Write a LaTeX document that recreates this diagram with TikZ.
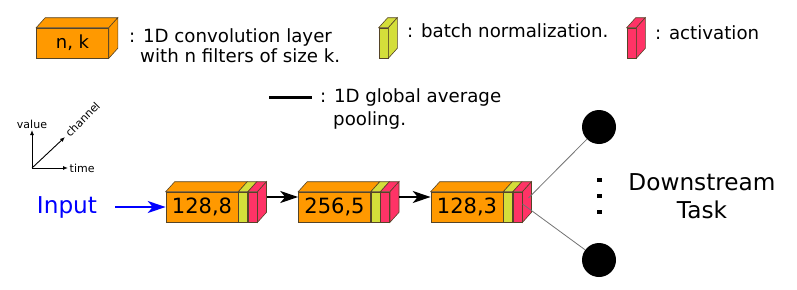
\documentclass[tikz,border=0pt]{standalone}
\usepackage{fontspec}
\setmainfont{DejaVu Sans}
\usepackage{tikz}
\usetikzlibrary{arrows.meta, positioning, calc}

\definecolor{convorange}{RGB}{255,153,0}
\definecolor{bngreen}{RGB}{212,222,58}
\definecolor{actred}{RGB}{255,51,102}
\definecolor{edgegray}{RGB}{85,68,40}

\begin{document}
\begin{tikzpicture}[
    x=1pt, y=-1pt,
    face/.style={draw=edgegray, line width=0.6pt},
    convbox/.style={rectangle, face, fill=convorange, minimum width=72pt, minimum height=30pt, inner sep=0pt, font=\fontsize{21}{25}\selectfont},
    bnbox/.style={rectangle, face, fill=bngreen, minimum width=9pt, minimum height=30pt, inner sep=0pt},
    actbox/.style={rectangle, face, fill=actred, minimum width=9pt, minimum height=30pt, inner sep=0pt},
    legtext/.style={inner sep=0pt, anchor=base west, font=\fontsize{18.2}{21}\selectfont},
    bigtext/.style={inner sep=0pt, align=center, font=\fontsize{23.2}{28}\selectfont},
    axlabel/.style={inner sep=0pt, font=\fontsize{11}{13}\selectfont},
    flowarrow/.style={-{Stealth[length=18pt, width=12pt, inset=5pt]}, line width=1.4pt},
    axisarrow/.style={-{Latex[length=5pt, width=4pt]}, line width=0.9pt},
    link/.style={draw=black!55, line width=0.8pt},
    outnode/.style={circle, fill=black, minimum size=34pt, inner sep=0pt},
    dotmark/.style={rectangle, fill=black, minimum width=5pt, minimum height=4.5pt, inner sep=0pt},
]
\useasboundingbox (0,0) rectangle (797,289);

% legend
\node[convbox, font=\fontsize{18}{21}\selectfont] (legconv) at (72.5,43) {n, k};
\node[bnbox] (legbn) at (383.5,43) {};
\node[actbox] (legact) at (631.5,43) {};
\node[legtext] (convtxt) at (129,42) {: 1D convolution layer};
\node[legtext] (convtxtb) at (140,62) {with n filters of size k.};
\node[legtext] (bntxt) at (407,37) {: batch normalization.};
\node[legtext] (acttxt) at (655,39) {: activation};

\coordinate (poolA) at (269,97);
\coordinate (poolB) at (312,97);
\draw[line width=3pt] (poolA) -- (poolB);
\node[legtext] (pooltxt) at (320,102) {: 1D global average};
\node[legtext] (pooltxtb) at (333,125) {pooling.};

% axes
\coordinate (origin) at (32,168);
\coordinate (valuetip) at (32,130);
\coordinate (timetip) at (68,168);
\coordinate (chantip) at (65,137);
\draw[axisarrow] (origin) -- (valuetip);
\draw[axisarrow] (origin) -- (timetip);
\draw[axisarrow] (origin) -- (chantip);
\node[axlabel, above=1.5pt of valuetip] (valuelab) {value};
\node[axlabel, right=1.5pt of timetip] (timelab) {time};
\node[axlabel, rotate=45, anchor=west] (chanlab) at ($(chantip)+(2,-2)$) {channel};

% layers
\node[bigtext, text=blue] (input) at (67,207) {Input};
\node[convbox] (conv1) at (202,207) {128,8};
\node[convbox] (conv2) at (334.5,207) {256,5};
\node[convbox] (conv3) at (467,207) {128,3};
\foreach \i in {1,2,3} {
    \node[bnbox, anchor=west] (bn\i) at (conv\i.east) {};
    \node[actbox, anchor=west] (act\i) at (bn\i.east) {};
}

% depth faces
\foreach \blk/\col in {legconv/convorange, legbn/bngreen, legact/actred,
    conv1/convorange, bn1/bngreen, act1/actred,
    conv2/convorange, bn2/bngreen, act2/actred,
    conv3/convorange, bn3/bngreen, act3/actred} {
    \filldraw[face, fill=\col] (\blk.north west) -- ++(9,-10) -- ($(\blk.north east)+(9,-10)$) -- (\blk.north east) -- cycle;
}
\foreach \blk/\col in {legconv/convorange, legbn/bngreen, legact/actred, act1/actred, act2/actred, act3/actred} {
    \filldraw[face, fill=\col] (\blk.north east) -- ++(9,-10) -- ($(\blk.south east)+(9,-10)$) -- (\blk.south east) -- cycle;
}

\coordinate (out1) at ($(act1.east)+(9,-10)$);
\coordinate (out2) at ($(act2.east)+(9,-10)$);
\draw[flowarrow, blue, shorten <=18pt] (input) -- (conv1);
\draw[flowarrow] (out1) -- (out1 -| conv2.west);
\draw[flowarrow] (out2) -- (out2 -| conv3.west);

% downstream task
\node[outnode] (outtop) at (599,127) {};
\node[outnode] (outbot) at (599,260) {};
\node[dotmark] (dota) at (599,180) {};
\node[dotmark] (dotb) at (599,196) {};
\node[dotmark] (dotc) at (599,212) {};
\coordinate (tapA) at ($(act3.east)+(6,-9)$);
\coordinate (tapB) at ($(act3.east)+(0,-3)$);
\draw[link] (tapA) -- (outtop);
\draw[link] (tapB) -- (outbot);
\node[bigtext] (task) at (702,196) {Downstream\\Task};

\end{tikzpicture}
\end{document}
